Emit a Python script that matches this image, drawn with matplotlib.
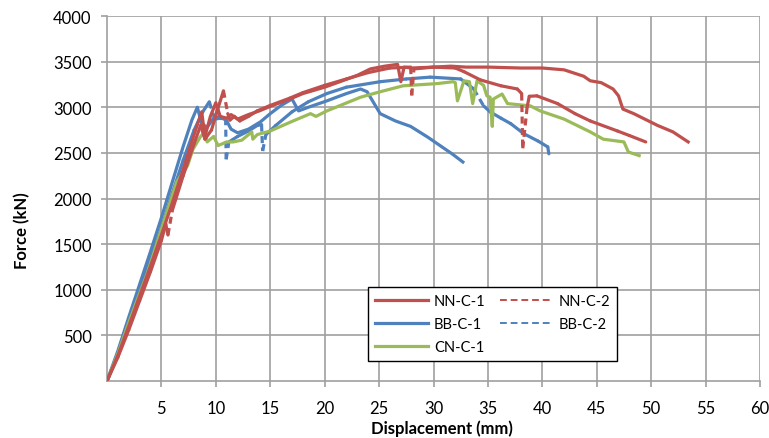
import numpy as np
import matplotlib
matplotlib.use("Agg")
import matplotlib.pyplot as plt
from matplotlib.collections import LineCollection
from matplotlib.lines import Line2D

plt.rcParams["font.family"] = ["Lato", "DejaVu Sans"]

# Force-displacement test records (displacement in mm, force in kN)
nn_c1_disp = [0, 1, 2, 3, 4, 5, 6, 7, 8, 8.7, 9.0, 9.5, 10.0, 10.4, 11.0, 11.4, 12, 13, 14,
              15, 16.8, 18, 20, 21.4, 23, 24.2, 25.5, 26.7, 27.0, 27.3, 28, 30, 31.6, 33,
              35, 38, 40, 42, 43.8, 44.4, 45.4, 46.5, 47.0, 47.4, 48.4, 50.6, 52, 53.4]
nn_c1_force = [0, 280, 600, 930, 1260, 1600, 1950, 2320, 2700, 2950, 2680, 2900, 3050, 2900,
               2880, 2920, 2870, 2920, 2960, 3010, 3090, 3150, 3220, 3280, 3350, 3420, 3450,
               3470, 3280, 3440, 3430, 3440, 3450, 3440, 3440, 3430, 3430, 3410, 3340, 3290,
               3270, 3200, 3125, 2980, 2930, 2800, 2730, 2620]

nn_c2_disp = [0, 1, 2, 3, 4, 5, 5.4, 5.6, 6, 7, 8, 8.6, 9.0, 9.6, 10.1, 10.7, 11.1, 11.3,
              11.7, 12.2, 13, 13.8, 15, 16.8, 18, 20, 22, 24, 26, 27.9, 28.0, 28.2, 30, 32,
              32.8, 34.3, 36.2, 37.7, 38.1, 38.2, 38.6, 38.8, 39.5, 41.4, 43.0, 44.4, 46.9,
              48, 49.5]
nn_c2_force = [0, 260, 560, 880, 1200, 1540, 1720, 1600, 1870, 2250, 2600, 2800, 2650, 2750,
               2950, 3180, 2930, 2860, 2900, 2850, 2900, 2960, 3020, 3100, 3160, 3240, 3310,
               3380, 3430, 3440, 3130, 3420, 3440, 3430, 3390, 3300, 3235, 3200, 3150, 2550,
               3000, 3120, 3125, 3040, 2930, 2850, 2740, 2690, 2620]

bb_c1_disp = [0, 1, 2, 3, 4, 5, 6, 7, 7.8, 8.3, 8.7, 9.2, 9.8, 10.4, 11.0, 11.4, 12, 13,
              14.1, 15, 16, 17.0, 17.6, 18.5, 20.2, 22, 23.3, 23.9, 25.1, 26.5, 27.9, 29.5,
              30.6, 31.7, 32.7]
bb_c1_force = [0, 330, 700, 1060, 1420, 1790, 2180, 2570, 2860, 3000, 2820, 2780, 2880,
               2900, 2850, 2760, 2720, 2760, 2840, 2930, 3020, 3090, 2960, 3000, 3070, 3150,
               3200, 3170, 2930, 2850, 2790, 2670, 2580, 2490, 2400]

bb_c2_disp = [0, 1, 2, 3, 4, 5, 6, 7, 8, 8.8, 9.4, 9.9, 10.4, 10.9, 10.95, 11.2, 12, 13,
              13.8, 14.2, 14.3, 14.6, 15.5, 17, 18.5, 20.2, 22, 25.1, 27.5, 29.7, 32.5,
              33.7, 34.6, 35.2, 36.2, 37.1, 38.3, 39.6, 40.5, 40.6]
bb_c2_force = [0, 300, 640, 980, 1330, 1680, 2060, 2420, 2750, 2950, 3060, 2870, 2880,
               2880, 2430, 2620, 2680, 2740, 2800, 2810, 2520, 2700, 2800, 2950, 3060, 3150,
               3220, 3280, 3310, 3330, 3310, 3200, 3015, 2950, 2880, 2820, 2710, 2630, 2565,
               2490]

cn_c1_disp = [0, 1, 2, 3, 3.7, 5.5, 6.4, 7.4, 7.9, 8.6, 9.0, 9.2, 9.8, 10.2, 11.0, 11.6,
              12.4, 13.3, 13.4, 13.8, 15, 17.1, 18.7, 19.2, 20.2, 23.3, 25.1, 27.2, 30.4,
              31.8, 32.0, 32.2, 32.8, 33.3, 33.6, 34.0, 34.6, 34.9, 35.2, 35.4, 35.5, 36.3,
              36.8, 38.9, 39.8, 42.0, 44.4, 45.6, 47.5, 47.9, 48.9]
cn_c1_force = [0, 300, 640, 960, 1180, 1850, 2180, 2360, 2540, 2680, 2730, 2620, 2680,
               2580, 2620, 2620, 2640, 2730, 2650, 2700, 2740, 2850, 2930, 2900, 2960, 3110,
               3170, 3235, 3260, 3280, 3270, 3070, 3290, 3280, 3040, 3290, 3240, 3125, 3110,
               2790, 3090, 3145, 3040, 3015, 2960, 2870, 2730, 2650, 2620, 2510, 2470]

x_ticks = [5, 10, 15, 20, 25, 30, 35, 40, 45, 50, 55, 60]
y_ticks = [500, 1000, 1500, 2000, 2500, 3000, 3500, 4000]

RED = "#C0504D"
BLUE = "#4F81BD"
GREEN = "#9BBB59"
LW = 2.3
DASH = (0, (2.2, 1.4))

fig = plt.figure(figsize=(7.69, 4.39), dpi=100)
ax = fig.add_axes([107 / 769, 1 - 382 / 439, 653 / 769, 365 / 439])
ax.set_xlim(0, 60)
ax.set_ylim(0, 4000)


def draw_dashed_record(ax, xs, ys, color):
    """Dense stretches read as solid; the dash pattern only shows on steep jumps."""
    fig.canvas.draw()
    pts = ax.transData.transform(np.column_stack([xs, ys]))
    solid, dashed = [], []
    for i in range(len(xs) - 1):
        dx = pts[i + 1, 0] - pts[i, 0]
        dy = pts[i + 1, 1] - pts[i, 1]
        falling = ys[i + 1] < ys[i] or (i > 0 and ys[i] < ys[i - 1])
        steep = abs(dy) > 15 and abs(dy) > 1.5 * abs(dx)
        seg = [(xs[i], ys[i]), (xs[i + 1], ys[i + 1])]
        (dashed if (steep and falling) else solid).append(seg)
    ax.add_collection(LineCollection(solid, colors=color, linewidths=LW,
                                     capstyle="round", joinstyle="round", zorder=3))
    ax.add_collection(LineCollection(dashed, colors=color, linewidths=LW,
                                     linestyles=[DASH], zorder=3))


ax.plot(bb_c1_disp, bb_c1_force, color=BLUE, lw=LW, solid_joinstyle="round", zorder=3)
draw_dashed_record(ax, bb_c2_disp, bb_c2_force, BLUE)
ax.plot(cn_c1_disp, cn_c1_force, color=GREEN, lw=LW, solid_joinstyle="round", zorder=3)
ax.plot(nn_c1_disp, nn_c1_force, color=RED, lw=LW, solid_joinstyle="round", zorder=3)
draw_dashed_record(ax, nn_c2_disp, nn_c2_force, RED)

ax.set_xticks(x_ticks)
ax.set_yticks(y_ticks)
ax.grid(True, color="#A0A0A0", lw=1.2)
ax.set_axisbelow(True)
for side in ("top", "right"):
    ax.spines[side].set_visible(False)
for side in ("left", "bottom"):
    ax.spines[side].set_color("#A0A0A0")
    ax.spines[side].set_linewidth(1.2)
ax.tick_params(axis="both", colors="#A0A0A0", labelcolor="black", labelsize=12,
               length=4, width=1.2, direction="out")
ax.tick_params(axis="x", pad=10)
ax.tick_params(axis="y", pad=7)

ax.set_xlabel("Displacement (mm)", fontsize=12, fontweight="bold")
ax.set_ylabel("Force (kN)", fontsize=12, fontweight="bold")
ax.xaxis.set_label_coords((442 - 107) / 653, -0.106)
ax.yaxis.set_label_coords(-0.117, 0.414)

handles = [
    Line2D([], [], color=RED, lw=LW),
    Line2D([], [], color=BLUE, lw=LW),
    Line2D([], [], color=GREEN, lw=LW),
    Line2D([], [], color=RED, lw=1.4, ls=(0, (3.5, 2))),
    Line2D([], [], color=BLUE, lw=1.4, ls=(0, (3.5, 2))),
]
labels = ["NN-C-1", "BB-C-1", "CN-C-1", "NN-C-2", "BB-C-2"]
leg = ax.legend(handles, labels, ncol=2, loc="lower left",
                bbox_to_anchor=(0.400, 0.055), borderaxespad=0, fontsize=10.5,
                frameon=True, fancybox=False, edgecolor="black", framealpha=1,
                handlelength=3.6, handletextpad=0.4, columnspacing=1.0,
                labelspacing=0.6, borderpad=0.5)
leg.get_frame().set_linewidth(1.0)

fig.savefig("out.png", dpi=100)
